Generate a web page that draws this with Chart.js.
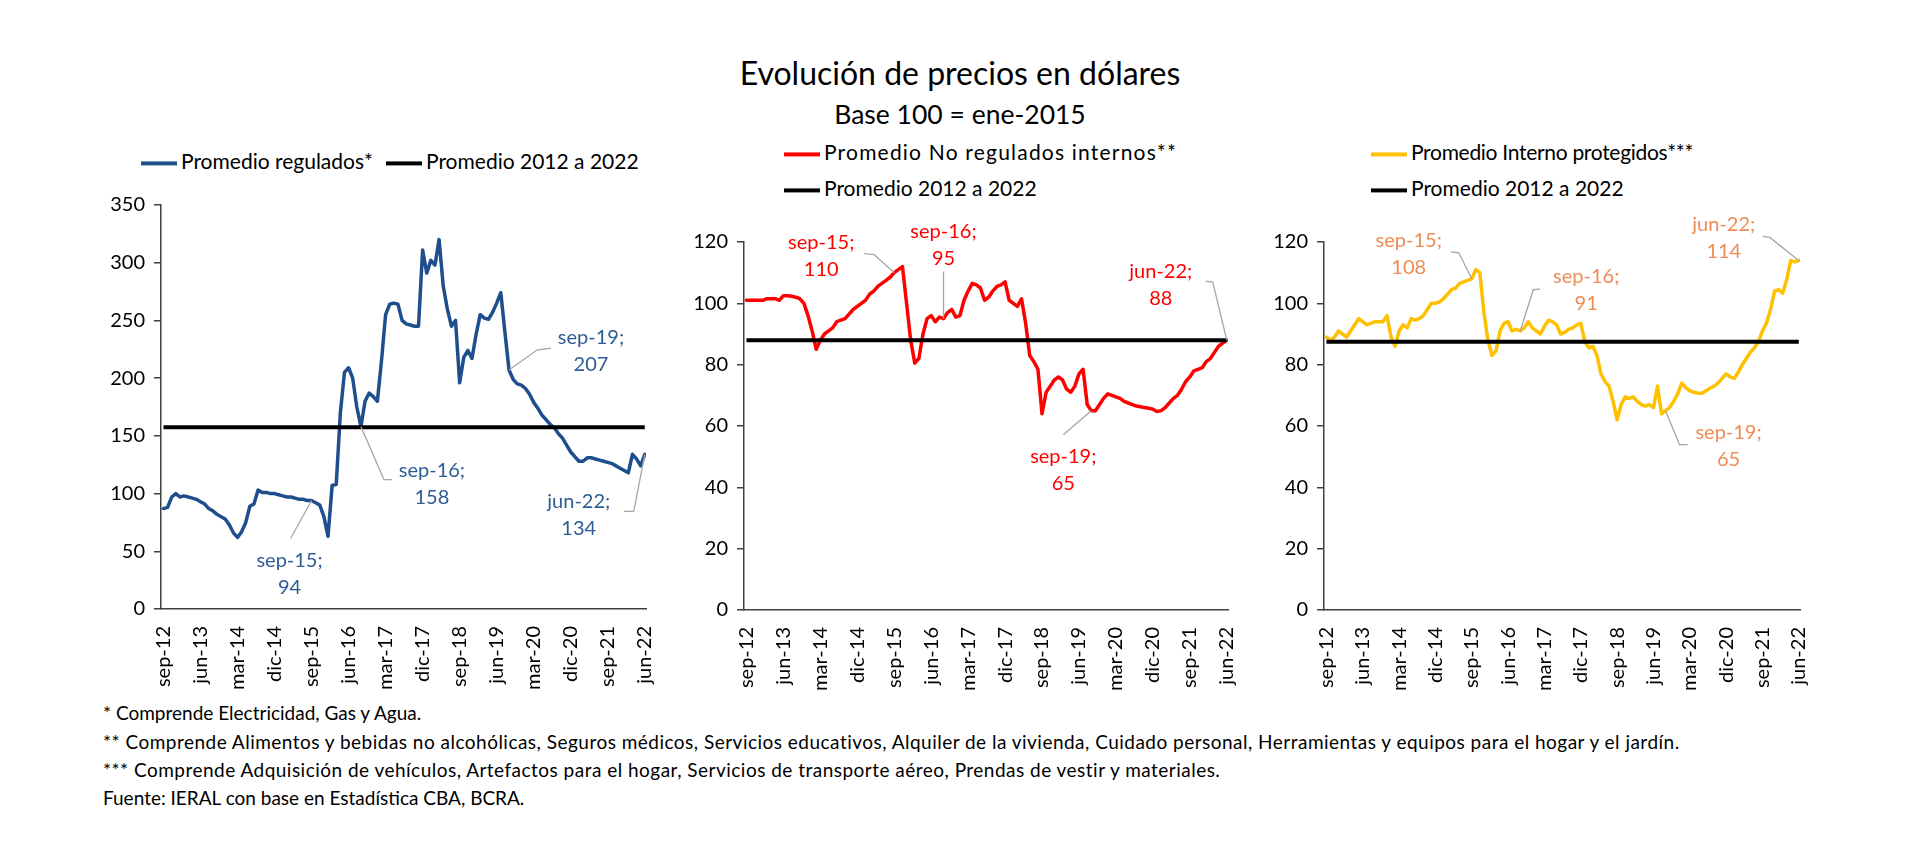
<!DOCTYPE html>
<html><head><meta charset="utf-8">
<script src="https://cdn.jsdelivr.net/npm/chart.js@4.4.1/dist/chart.umd.min.js"></script>
<style>
html,body{margin:0;padding:0;background:#fff}
body{width:1920px;height:862px;position:relative;overflow:hidden;font-family:Lato,'Open Sans',sans-serif;color:#000}
.t{position:absolute;white-space:nowrap;transform:translateY(-50%);line-height:1.2}
.sw{display:inline-block;width:36px;height:4px;vertical-align:middle;margin-right:4px;position:relative;top:-1px}
.lg{font-size:21px}
.fn{font-size:19px;left:103px}
canvas{position:absolute}
</style></head>
<body>
<div class="t" id="title" style="left:0;width:1920px;text-align:center;top:73px;font-size:32px">Evolución de precios en dólares</div>
<div class="t" id="subtitle" style="left:0;width:1920px;text-align:center;top:115px;font-size:26.5px">Base 100 = ene-2015</div>

<div class="t lg" style="left:141px;top:161px"><span class="sw" style="background:#1f4e8c"></span>Promedio regulados*</div>
<div class="t lg" style="left:386px;top:161px"><span class="sw" style="background:#000"></span>Promedio 2012 a 2022</div>

<div class="t lg" style="left:784px;top:152px;letter-spacing:1.2px"><span class="sw" style="background:#ff0000"></span>Promedio No regulados internos**</div>
<div class="t lg" style="left:784px;top:188px"><span class="sw" style="background:#000"></span>Promedio 2012 a 2022</div>

<div class="t lg" style="left:1371px;top:152px;letter-spacing:-0.3px"><span class="sw" style="background:#ffc000"></span>Promedio Interno protegidos***</div>
<div class="t lg" style="left:1371px;top:188px"><span class="sw" style="background:#000"></span>Promedio 2012 a 2022</div>

<canvas id="c1"></canvas>
<canvas id="c2"></canvas>
<canvas id="c3"></canvas>

<div class="t fn" style="top:713px">* Comprende Electricidad, Gas y Agua.</div>
<div class="t fn" style="top:742px;letter-spacing:0.48px">** Comprende Alimentos y bebidas no alcohólicas, Seguros médicos, Servicios educativos, Alquiler de la vivienda, Cuidado personal, Herramientas y equipos para el hogar y el jardín.</div>
<div class="t fn" style="top:770px;letter-spacing:0.48px">*** Comprende Adquisición de vehículos, Artefactos para el hogar, Servicios de transporte aéreo, Prendas de vestir y materiales.</div>
<div class="t fn" style="top:798px">Fuente: IERAL con base en Estadística CBA, BCRA.</div>

<script>
// ---- DATA ----
const categories = [
 'sep-12','oct-12','nov-12','dic-12',
 'ene-13','feb-13','mar-13','abr-13','may-13','jun-13','jul-13','ago-13','sep-13','oct-13','nov-13','dic-13',
 'ene-14','feb-14','mar-14','abr-14','may-14','jun-14','jul-14','ago-14','sep-14','oct-14','nov-14','dic-14',
 'ene-15','feb-15','mar-15','abr-15','may-15','jun-15','jul-15','ago-15','sep-15','oct-15','nov-15','dic-15',
 'ene-16','feb-16','mar-16','abr-16','may-16','jun-16','jul-16','ago-16','sep-16','oct-16','nov-16','dic-16',
 'ene-17','feb-17','mar-17','abr-17','may-17','jun-17','jul-17','ago-17','sep-17','oct-17','nov-17','dic-17',
 'ene-18','feb-18','mar-18','abr-18','may-18','jun-18','jul-18','ago-18','sep-18','oct-18','nov-18','dic-18',
 'ene-19','feb-19','mar-19','abr-19','may-19','jun-19','jul-19','ago-19','sep-19','oct-19','nov-19','dic-19',
 'ene-20','feb-20','mar-20','abr-20','may-20','jun-20','jul-20','ago-20','sep-20','oct-20','nov-20','dic-20',
 'ene-21','feb-21','mar-21','abr-21','may-21','jun-21','jul-21','ago-21','sep-21','oct-21','nov-21','dic-21',
 'ene-22','feb-22','mar-22','abr-22','may-22','jun-22'
];
const xTickLabels = ['sep-12','jun-13','mar-14','dic-14','sep-15','jun-16','mar-17','dic-17','sep-18','jun-19','mar-20','dic-20','sep-21','jun-22'];

const regulados = [
 87,88,97,100,97,98,97,96,95,93,
 91,87,85,82,80,78,73,66,62,67,
 75,89,91,103,101,101,100,100,99,98,
 97,97,96,95,95,94,94,92,90,80,
 63,107,108,170,205,209,200,175,158,180,
 187,184,180,215,255,264,265,264,250,247,
 246,245,245,311,291,302,298,320,280,260,
 245,250,196,218,224,217,238,255,252,251,
 257,265,274,240,207,199,195,194,191,186,
 179,174,168,164,160,157,152,148,142,136,
 132,128,128,131,131,130,129,128,127,126,
 124,122,120,118,134,130,124,134
];
const noRegulados = [
 101,101,101,101,101,101.5,101.5,101.5,101,102.5,
 102.5,102.3,102,101.5,100,96,91,85,88,90,
 91,92,94,94.5,95,96.5,98,99,100,101,
 103,104,105.5,106.5,107.5,108.5,110,111,112,100,
 88,80.5,82,90,95,96,94,95.5,95,97,
 98,95.5,96,101,104,106.5,106,105,101,102,
 104,105.5,106,107,101,100,99,101.5,93.6,83,
 81,78.5,64,71,73,75,76,75,72,71,
 73,77,78.5,67,65,65,67,69,70.5,70,
 69.5,69,68,67.5,67,66.5,66.3,66,65.8,65.5,
 64.7,65,66,67.5,69,70,72,74.5,76,78,
 78.5,79,81,82,84,86,87,88
];
const protegidos = [
 89,88,89,91,90,89,91,93,95,94,
 93,93.5,94,94,94,96,89,86,91,93,
 92,95,94.5,95,96,98,100,100,100.5,101.5,
 103,104.5,105,106.5,107,107.5,108,111,110,97,
 88,83,84.5,91,93.5,94,91,91.5,91,92,
 94,92,91,90,92.5,94.5,94,93,90,90.5,
 91.5,92,93,93.5,87.5,85.5,86,83,77,74.5,
 73,68,62,67,69.5,69,69.5,68,67,66.5,
 67,66,73,64,65,66,68,70.5,74,72.5,
 71.5,71,70.7,70.7,71.5,72.3,73,74,75.5,77,
 76,75.5,77.5,80,82,84,85.5,87.5,91,93.5,
 98,104,104.5,103.3,107.7,114,113.5,114
];
const promedioRegulados = 157.5;
const promedioNoRegulados = 88;
const promedioProtegidos = 87.5;

// annotated months
const annotRegulados = ['sep-15','sep-16','sep-19','jun-22'];
const annotNoRegulados = ['sep-15','sep-16','sep-19','jun-22'];
const annotProtegidos = ['sep-15','sep-16','sep-19','jun-22'];

// ---- LAYOUT ----
const FONT = 'Lato, "Open Sans", sans-serif';
const WY = 60, PAD_TOP = 45, PAD_RIGHT = 25, HX = 90;
const tickIdx = xTickLabels.map(l => categories.indexOf(l));

function annotPlugin(values, labelMonths, color, offsets) {
  return {
    id: 'annots',
    afterDatasetsDraw(chart) {
      const ctx = chart.ctx, xs = chart.scales.x, ys = chart.scales.y;
      ctx.save();
      labelMonths.forEach((m, k) => {
        const i = categories.indexOf(m);
        const ax = xs.getPixelForValue(i), ay = ys.getPixelForValue(values[i]);
        const o = offsets[k];
        ctx.strokeStyle = '#a6a6a6'; ctx.lineWidth = 1.3;
        ctx.beginPath(); ctx.moveTo(ax, ay);
        o.leader.forEach(p => ctx.lineTo(ax + p[0], ay + p[1]));
        ctx.stroke();
        ctx.fillStyle = color; ctx.font = '20px ' + FONT;
        ctx.textAlign = 'center'; ctx.textBaseline = 'middle';
        ctx.fillText(m + ';', ax + o.dx, ay + o.dy);
        ctx.fillText(String(Math.round(values[i])), ax + o.dx, ay + o.dy + 27);
      });
      ctx.restore();
    }
  };
}

function makeChart(id, area, values, avg, color, yMax, yStep, labelMonths, labelColor, offsets) {
  const cv = document.getElementById(id);
  const w = WY + (area.right - area.left) + PAD_RIGHT;
  const h = PAD_TOP + (area.bottom - area.top) + HX;
  cv.width = Math.round(w); cv.height = Math.round(h);
  cv.style.width = Math.round(w) + 'px'; cv.style.height = Math.round(h) + 'px';
  cv.style.left = (area.left - WY) + 'px'; cv.style.top = (area.top - PAD_TOP) + 'px';
  const pts = values.map((v, i) => ({x: i, y: v}));
  const avgPts = values.map((v, i) => ({x: i, y: avg}));
  new Chart(cv, {
    type: 'line',
    data: { datasets: [
      { data: avgPts, borderColor: '#000', borderWidth: 4, pointRadius: 0, tension: 0 },
      { data: pts, borderColor: color, borderWidth: 3.5, pointRadius: 0, tension: 0, borderJoinStyle: 'round', borderCapStyle: 'round' }
    ]},
    options: {
      responsive: false, animation: false, devicePixelRatio: 1,
      layout: { padding: { top: PAD_TOP, right: PAD_RIGHT, left: 0, bottom: 0 } },
      plugins: { legend: { display: false }, tooltip: { enabled: false } },
      scales: {
        x: {
          type: 'linear', min: -0.6, max: 117.3,
          afterBuildTicks: s => { s.ticks = tickIdx.map(v => ({ value: v })); },
          afterFit: s => { s.height = HX; s.paddingLeft = 0; s.paddingRight = 0; },
          ticks: { autoSkip: false, minRotation: 90, maxRotation: 90, padding: 9, color: '#000',
                   font: { family: FONT, size: 20 }, callback: v => categories[v] },
          grid: { display: false },
          border: { display: true, color: '#404040', width: 1.5 }
        },
        y: {
          min: 0, max: yMax,
          afterFit: s => { s.width = WY; s.paddingTop = 0; s.paddingBottom = 0; },
          ticks: { stepSize: yStep, padding: 9, color: '#000', font: { family: FONT, size: 20 } },
          grid: { drawOnChartArea: false, drawTicks: true, tickLength: 7, color: '#404040', lineWidth: 1.5 },
          border: { display: true, color: '#404040', width: 1.5 }
        }
      }
    },
    plugins: [annotPlugin(values, labelMonths, labelColor, offsets)]
  });
}

makeChart('c1', {left:161, right:646, top:205, bottom:609}, regulados, promedioRegulados, '#1f4e8c', 350, 50,
  annotRegulados, '#2e5c94', [
    {dx:-22, dy:60, leader:[[-21,38]]},
    {dx:71, dy:44, leader:[[23,53],[31,53]]},
    {dx:82, dy:-33, leader:[[28,-20],[42,-22]]},
    {dx:-66, dy:47, leader:[[-11,57],[-21,57]]}
  ]);
makeChart('c2', {left:744, right:1228, top:242, bottom:610}, noRegulados, promedioNoRegulados, '#ff0000', 120, 20,
  annotNoRegulados, '#ff0000', [
    {dx:-73, dy:-30, leader:[[-20,-18],[-30,-19]]},
    {dx:0, dy:-87, leader:[[0,-47]]},
    {dx:-28, dy:46, leader:[[-28,24]]},
    {dx:-66, dy:-69, leader:[[-14,-58],[-21,-59]]}
  ]);
makeChart('c3', {left:1324, right:1800, top:242, bottom:610}, protegidos, promedioProtegidos, '#ffc000', 120, 20,
  annotProtegidos, '#ee8c55', [
    {dx:-63, dy:-38, leader:[[-13,-26],[-21,-27]]},
    {dx:66, dy:-54, leader:[[13,-41],[20,-42]]},
    {dx:63, dy:22, leader:[[14,34],[22,34]]},
    {dx:-75, dy:-36, leader:[[-29,-23],[-36,-24]]}
  ]);
</script>
</body></html>
